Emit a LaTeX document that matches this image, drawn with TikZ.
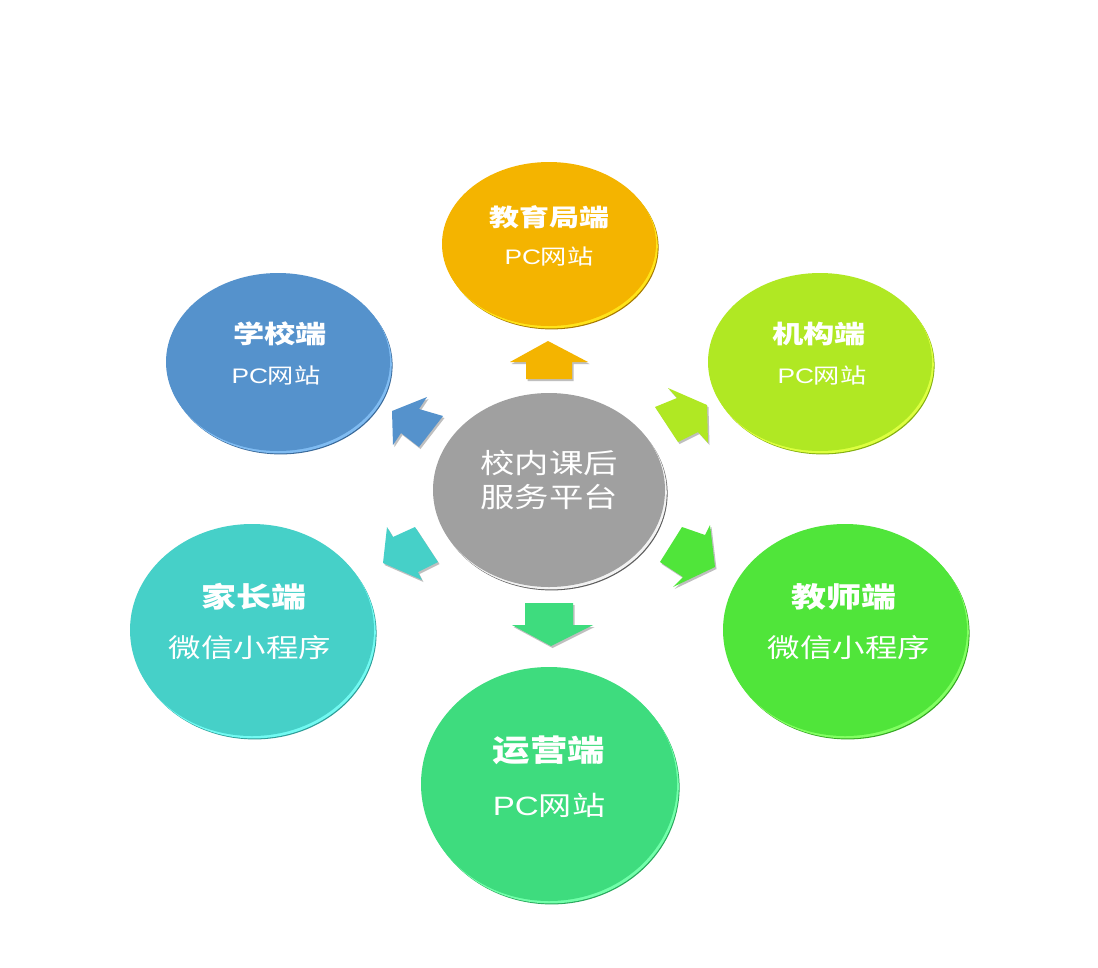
\documentclass[tikz,border=0pt]{standalone}
\usepackage{fontspec}
\newfontfamily\cjk{Noto Sans CJK SC}
\newfontfamily\lat{Liberation Sans}
\usetikzlibrary{shapes.geometric}
\definecolor{yelM}{HTML}{F4B400}\definecolor{yelL}{HTML}{FFE31A}\definecolor{yelD}{HTML}{A87A00}
\definecolor{bluM}{HTML}{5592CC}\definecolor{bluL}{HTML}{80BCF2}\definecolor{bluD}{HTML}{3A6A9A}
\definecolor{limM}{HTML}{B0E823}\definecolor{limL}{HTML}{DDFF40}\definecolor{limD}{HTML}{84B010}
\definecolor{cyaM}{HTML}{46D0C8}\definecolor{cyaL}{HTML}{72FAF2}\definecolor{cyaD}{HTML}{2E9E98}
\definecolor{grnM}{HTML}{50E53A}\definecolor{grnL}{HTML}{82FF62}\definecolor{grnD}{HTML}{34A822}
\definecolor{mntM}{HTML}{3EDC7E}\definecolor{mntL}{HTML}{72FFAA}\definecolor{mntD}{HTML}{28A85C}
\definecolor{gryM}{HTML}{A0A0A0}\definecolor{gryL}{HTML}{F2F2F2}\definecolor{gryD}{HTML}{5E5E5E}
\newcommand{\disc}[6]{% name, x, y, rx, ry, colour prefix
  \fill[#6D] (#2+2.6,#3+3.4) ellipse [x radius=#4pt, y radius=#5pt];
  \fill[#6L] (#2+1.8,#3+2.4) ellipse [x radius=#4pt, y radius=#5pt];
  \node[disc, fill=#6M, minimum width=2*#4pt, minimum height=2*#5pt] (#1) at (#2,#3) {};
}
\newcommand{\sx}[1]{\scalebox{1.25}[1]{#1}}
\begin{document}
\begin{tikzpicture}[x=1pt,y=-1pt,
  disc/.style={ellipse, inner sep=0pt, draw=none},
  ttl/.style={text=white, font=\cjk\bfseries},
  sub/.style={text=white, font=\cjk},
  arrowshade/.style={fill=black!25},
  noshade/.style={},
]
\useasboundingbox[fill=white] (0,0) rectangle (1098,967);

\disc{ctr}{549}{490}{116}{97}{gry}
\disc{edu}{549}{244}{107}{82}{yel}
\disc{sch}{278}{362}{112}{89}{blu}
\disc{org}{820}{362}{112}{89}{lim}
\disc{par}{252}{630}{122}{106}{cya}
\disc{tea}{845}{630}{122}{106}{grn}
\disc{ops}{549}{784}{128}{117}{mnt}

% texts
\node[sub, font=\cjk\fontsize{27.5}{30}\selectfont] (ctrT1) at (549,463) {\sx{校内课后}};
\node[sub, font=\cjk\fontsize{27.5}{30}\selectfont] (ctrT2) at (549,497) {\sx{服务平台}};
\node[ttl, font=\cjk\bfseries\fontsize{24}{26}\selectfont] (eduT) at (549,217) {\sx{教育局端}};
\node[sub, font=\lat\fontsize{21}{23}\selectfont] (eduS) at (549,256) {\sx{PC{\cjk 网站}}};
\node[ttl, font=\cjk\bfseries\fontsize{25}{27}\selectfont] (schT) at (280,334) {\sx{学校端}};
\node[sub, font=\lat\fontsize{21}{23}\selectfont] (schS) at (276,375) {\sx{PC{\cjk 网站}}};
\node[ttl, font=\cjk\bfseries\fontsize{25}{27}\selectfont] (orgT) at (819,334) {\sx{机构端}};
\node[sub, font=\lat\fontsize{21}{23}\selectfont] (orgS) at (822,375) {\sx{PC{\cjk 网站}}};
\node[ttl, font=\cjk\bfseries\fontsize{28}{30}\selectfont] (parT) at (254,597) {\sx{家长端}};
\node[sub, font=\cjk\fontsize{26}{28}\selectfont] (parS) at (250,648) {\sx{微信小程序}};
\node[ttl, font=\cjk\bfseries\fontsize{28}{30}\selectfont] (teaT) at (844,597) {\sx{教师端}};
\node[sub, font=\cjk\fontsize{26}{28}\selectfont] (teaS) at (849,648) {\sx{微信小程序}};
\node[ttl, font=\cjk\bfseries\fontsize{30}{32}\selectfont] (opsT) at (549,750) {\sx{运营端}};
\node[sub, font=\lat\fontsize{26.5}{29}\selectfont] (opsS) at (549,805) {\sx{PC{\cjk 网站}}};

% block arrows (shadow copy first)
\foreach \dx/\dy/\sty in {1.5/2/arrowshade, 0/0/noshade}{
  \begin{scope}[shift={(\dx,\dy)}]
  \fill[fill=yelM, \sty] (548,341) -- (588,362) -- (572,362) -- (572,379) -- (526,379) -- (526,362) -- (510,362) -- cycle;
  \fill[fill=mntM, \sty] (525,603) -- (573,603) -- (573,625) -- (593,625) -- (551,646) -- (512,625) -- (525,625) -- cycle;
  \fill[fill=bluM, \sty] (392,411) -- (427,397) -- (419,409) -- (443,416) -- (419,447) -- (401,433) -- (393,445) -- cycle;
  \fill[fill=limM, \sty] (707,405) -- (668,388) -- (677,398) -- (655,407) -- (678,442) -- (698,432) -- (708,443) -- cycle;
  \fill[fill=cyaM, \sty] (383,563) -- (387,527) -- (393,537) -- (415,527) -- (438,562) -- (418,572) -- (422,580) -- cycle;
  \fill[fill=grnM, \sty] (715,567) -- (710,525) -- (705,535) -- (682,527) -- (660,562) -- (683,577) -- (673,587) -- cycle;
  \end{scope}
}
\end{tikzpicture}
\end{document}
